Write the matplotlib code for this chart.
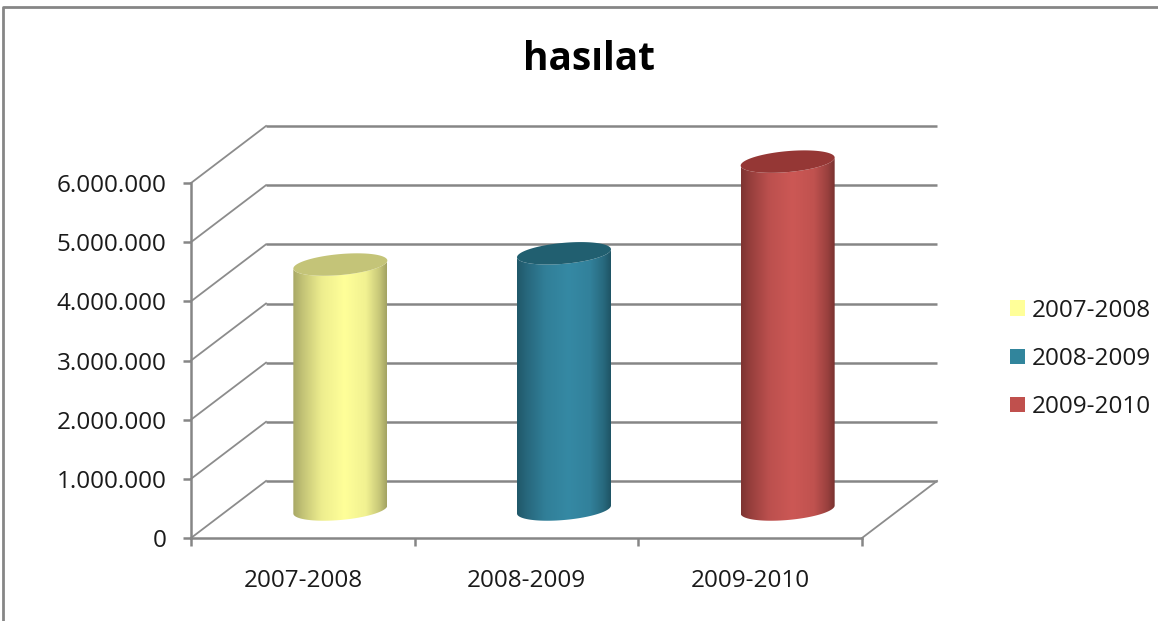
import numpy as np
import matplotlib
matplotlib.use("Agg")
import matplotlib.pyplot as plt
from matplotlib.patches import Patch, PathPatch
from matplotlib.path import Path
from matplotlib.lines import Line2D
from matplotlib.colors import LinearSegmentedColormap
from matplotlib.ticker import FuncFormatter

# data
categories = ["2007-2008", "2008-2009", "2009-2010"]
values = [4140000, 4330000, 5880000]
title = "hasılat"
yticks = [0, 1000000, 2000000, 3000000, 4000000, 5000000, 6000000]

# style
colors = ["#FFFF99", "#3589A4", "#CC5855"]
top_colors = ["#C4C478", "#215F70", "#953735"]
dark_colors = ["#A3A363", "#1F5566", "#7A3230"]
GRID = "#868686"
W, H = 1158, 621
plt.rcParams["font.family"] = ["Open Sans", "DejaVu Sans"]

fig = plt.figure(figsize=(W / 100, H / 100), dpi=100, facecolor="white")
ax = fig.add_axes([191 / W, (H - 538) / H, 671 / W, 355 / H])
ax.set_xlim(0, 3)
ax.set_ylim(0, 6000000)
ax.patch.set_visible(False)
SX = 3 / 671
SY = 6000000 / 355
DX, DY = 75 * SX, 57 * SY   # depth of the 3D box

# gridlines + floor
for v in yticks:
    ax.plot([0, DX], [v, v + DY], color="#8C8C8C", lw=1.3, clip_on=False, zorder=1)
    ax.plot([DX, 3 + DX], [v + DY, v + DY], color=GRID, lw=1.8, clip_on=False, zorder=1,
            solid_capstyle="butt")
ax.plot([3, 3 + DX], [0, DY], color="#8C8C8C", lw=1.3, clip_on=False, zorder=1)

# cylinders
ramp_pos = [0.0, 0.10, 0.30, 0.55, 0.78, 0.92, 1.0]
ramp_mix = [0.05, 0.35, 0.80, 1.0, 0.85, 0.40, 0.0]
A, TILT, B = 47 * SX, 4 * SY, 10.5 * SY
t = np.linspace(0, 2 * np.pi, 121)
for i, (val, col, top, dark) in enumerate(zip(values, colors, top_colors, dark_colors)):
    cx = i + 0.5 + DX / 2
    y0 = DY / 2
    y1 = y0 + val
    tl = np.linspace(np.pi, 2 * np.pi, 61)
    bx = cx + A * np.cos(tl)
    by = y0 + TILT * np.cos(tl) + B * np.sin(tl)
    tu = tl[::-1]
    ux = cx + A * np.cos(tu)
    uy = y1 + TILT * np.cos(tu) + B * np.sin(tu)
    verts = np.column_stack([np.r_[bx, ux], np.r_[by, uy]])
    verts = np.vstack([verts, verts[0]])
    clip = PathPatch(Path(verts), transform=ax.transData, fc="none", ec="none")
    ax.add_patch(clip)
    cmap = LinearSegmentedColormap.from_list(
        f"c{i}", [(p, matplotlib.colors.to_hex(
            np.array(matplotlib.colors.to_rgb(dark)) * (1 - m) + np.array(matplotlib.colors.to_rgb(col)) * m))
            for p, m in zip(ramp_pos, ramp_mix)])
    grad = np.linspace(0, 1, 200).reshape(1, -1)
    im = ax.imshow(grad, cmap=cmap, aspect="auto", zorder=3, interpolation="bilinear",
                   extent=[cx - A, cx + A, y0 - 2 * B, y1 + 2 * B])
    im.set_clip_path(clip)
    im.set_clip_box(fig.bbox)
    ex = cx + A * np.cos(t)
    ey = y1 + TILT * np.cos(t) + B * np.sin(t)
    ax.fill(ex, ey, color=top, lw=0, zorder=4, clip_on=False)
ax.set_xlim(0, 3)
ax.set_ylim(0, 6000000)

# axes
for s in ["top", "right"]:
    ax.spines[s].set_visible(False)
for s in ["left", "bottom"]:
    ax.spines[s].set_color(GRID)
    ax.spines[s].set_linewidth(1.8)
ax.set_yticks(yticks)
ax.yaxis.set_major_formatter(FuncFormatter(lambda v, p: f"{int(v):,}".replace(",", ".")))
ax.set_xticks([0, 1, 2, 3])
ax.set_xticklabels([])
ax.set_xticks([0.5, 1.5, 2.5], categories, minor=True)
ax.tick_params(axis="x", which="major", length=6, width=1.8, color=GRID)
ax.tick_params(axis="x", which="minor", length=0, pad=22, labelsize=17.5, labelcolor="#1a1a1a")
ax.tick_params(axis="y", which="major", length=5.5, width=1.8, color=GRID, pad=12,
               labelsize=17.5, labelcolor="#1a1a1a")

# title
fig.text(589 / W, 1 - 60 / H, title, ha="center", va="center", fontsize=28, fontweight="bold", color="black")

# legend
handles = [Patch(fc=c, ec="none", label=l) for c, l in zip(["#FFFF99", "#31859C", "#C0504D"], categories)]
fig.legend(handles=handles, loc="center left", bbox_to_anchor=(1010 / W, 1 - 359 / H), frameon=False,
           fontsize=17.5, handlelength=0.6, handleheight=0.6, handletextpad=0.3, labelspacing=1.0,
           labelcolor="#1a1a1a", borderaxespad=0, borderpad=0)

# chart frame
fig.add_artist(Line2D([3 / W, 3 / W, 1], [0, 1 - 7 / H, 1 - 7 / H], color="#868686", lw=2, transform=fig.transFigure))

fig.savefig("out.png", dpi=100)
